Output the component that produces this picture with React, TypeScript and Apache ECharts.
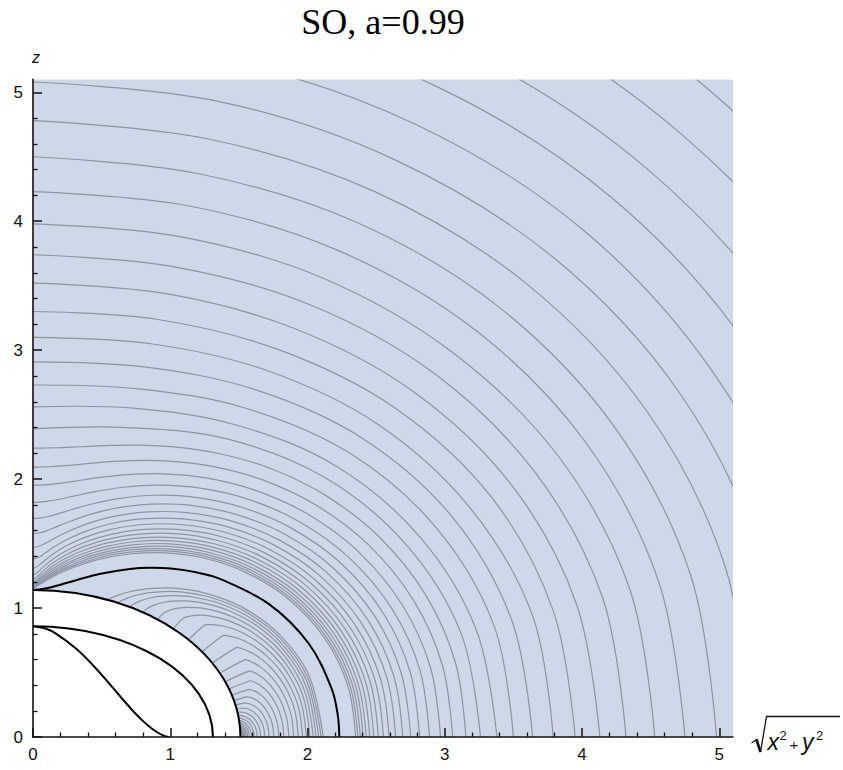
import React, { useEffect, useRef } from "react";
import * as echarts from "echarts";

// ---- texts and ticks ----
const TITLE = "SO, a=0.99";
const Y_NAME = "z";
const majorTicks = [0, 1, 2, 3, 4, 5];
const minorTicks = [0.2, 0.4, 0.6, 0.8, 1.2, 1.4, 1.6, 1.8, 2.2, 2.4, 2.6, 2.8, 3.2, 3.4, 3.6, 3.8, 4.2, 4.4, 4.6, 4.8];

// ---- horizons (quarter ellipses): semi-axis along sqrt(x^2+y^2), semi-axis along z ----
const outerHorizon = [1.511, 1.141];
const innerHorizon = [1.311, 0.859];

// ---- ergosurfaces: [sqrt(x^2+y^2), z] ----
const ergoInner = [[0, 0.859], [0.085, 0.843], [0.167, 0.802], [0.315, 0.684], [0.442, 0.551], [0.551, 0.42], [0.646, 0.302], [0.729, 0.202], [0.802, 0.123], [0.865, 0.066], [0.917, 0.029], [0.957, 0.009], [0.982, 0.001], [0.99, 0]];
const ergoOuter = [[0, 1.141], [0.04, 1.143], [0.079, 1.149], [0.133, 1.161], [0.216, 1.186], [0.332, 1.222], [0.483, 1.264], [0.706, 1.303], [0.855, 1.312], [1.005, 1.306], [1.188, 1.277], [1.368, 1.224], [1.727, 1.025], [2.01, 0.723], [2.175, 0.378], [2.22, 0.174], [2.232, 0]];

// ---- grey contour lines, outer family far from the hole ----
const contoursFar = [
  [[0, 6.87], [1.8, 6.66], [3.51, 6.01], [5.0, 4.95], [6.18, 3.53], [6.94, 1.84], [7.2, 0]],
  [[0, 6.47], [1.7, 6.27], [3.31, 5.67], [4.73, 4.67], [5.85, 3.34], [6.56, 1.74], [6.81, 0]],
  [[0, 6.09], [1.6, 5.9], [3.12, 5.34], [4.47, 4.41], [5.53, 3.16], [6.22, 1.65], [6.45, 0]],
  [[0, 5.73], [1.51, 5.56], [2.95, 5.04], [4.23, 4.17], [5.24, 2.98], [5.89, 1.56], [6.12, 0]],
  [[0, 5.4], [1.43, 5.24], [2.79, 4.75], [4.0, 3.94], [4.96, 2.82], [5.59, 1.48], [5.8, 0]],
  [[0, 5.08], [1.35, 4.93], [2.63, 4.48], [3.79, 3.72], [4.71, 2.67], [5.3, 1.4], [5.51, 0]],
  [[0, 4.78], [1.27, 4.64], [2.49, 4.23], [3.59, 3.52], [4.47, 2.53], [5.04, 1.33], [5.24, 0]],
  [[0, 4.5], [1.2, 4.37], [2.36, 3.99], [3.4, 3.33], [4.24, 2.4], [4.79, 1.26], [4.98, 0]],
  [[0, 4.23], [1.13, 4.12], [2.23, 3.77], [3.23, 3.15], [4.03, 2.28], [4.56, 1.2], [4.75, 0]],
  [[0, 3.98], [1.07, 3.88], [2.11, 3.56], [3.06, 2.98], [3.84, 2.16], [4.35, 1.14], [4.53, 0]],
  [[0, 3.74], [1.01, 3.65], [2.0, 3.36], [2.91, 2.83], [3.66, 2.05], [4.15, 1.08], [4.32, 0]],
  [[0, 3.52], [0.96, 3.44], [1.9, 3.17], [2.77, 2.68], [3.49, 1.95], [3.96, 1.03], [4.13, 0]],
  [[0, 3.3], [0.9, 3.24], [1.8, 3.0], [2.64, 2.55], [3.34, 1.86], [3.79, 0.98], [3.95, 0]],
  [[0, 3.1], [0.86, 3.05], [1.71, 2.84], [2.52, 2.42], [3.19, 1.77], [3.64, 0.94], [3.79, 0]],
  [[0, 2.91], [0.81, 2.87], [1.63, 2.69], [2.41, 2.31], [3.06, 1.7], [3.49, 0.9], [3.64, 0]],
  [[0, 2.73], [0.77, 2.7], [1.55, 2.55], [2.31, 2.2], [2.94, 1.62], [3.36, 0.86], [3.5, 0]],
  [[0, 2.56], [0.73, 2.55], [1.48, 2.42], [2.21, 2.1], [2.82, 1.55], [3.23, 0.83], [3.38, 0]],
  [[0, 2.39], [0.69, 2.4], [1.42, 2.31], [2.13, 2.01], [2.72, 1.49], [3.12, 0.8], [3.26, 0]],
];

// ---- grey contour lines, outer family near the hole ----
const contoursNear = [
  [[0, 2.24], [0.064, 2.24], [0.128, 2.242], [0.215, 2.245], [0.345, 2.251], [0.523, 2.26], [0.75, 2.264], [1.03, 2.25], [1.362, 2.197], [1.736, 2.08], [2.134, 1.872], [2.525, 1.549], [2.864, 1.096], [3.08, 0.568], [3.154, 0]],
  [[0, 2.093], [0.061, 2.094], [0.121, 2.096], [0.203, 2.102], [0.327, 2.113], [0.497, 2.13], [0.716, 2.144], [0.987, 2.14], [1.309, 2.099], [1.673, 1.994], [2.061, 1.799], [2.443, 1.492], [2.774, 1.058], [2.985, 0.549], [3.057, 0]],
  [[0, 1.953], [0.057, 1.954], [0.115, 1.958], [0.193, 1.967], [0.311, 1.985], [0.474, 2.011], [0.686, 2.035], [0.949, 2.041], [1.261, 2.01], [1.616, 1.915], [1.995, 1.733], [2.368, 1.44], [2.692, 1.022], [2.898, 0.531], [2.969, 0]],
  [[0, 1.82], [0.054, 1.822], [0.109, 1.829], [0.183, 1.842], [0.296, 1.868], [0.454, 1.903], [0.659, 1.937], [0.915, 1.953], [1.219, 1.93], [1.565, 1.845], [1.935, 1.674], [2.301, 1.393], [2.618, 0.99], [2.82, 0.515], [2.889, 0]],
  [[0, 1.695], [0.051, 1.698], [0.103, 1.708], [0.174, 1.728], [0.284, 1.764], [0.436, 1.809], [0.636, 1.851], [0.885, 1.875], [1.182, 1.859], [1.52, 1.782], [1.882, 1.62], [2.24, 1.351], [2.551, 0.962], [2.749, 0.5], [2.817, 0]],
  [[0, 1.578], [0.049, 1.584], [0.099, 1.599], [0.166, 1.628], [0.273, 1.673], [0.421, 1.728], [0.616, 1.777], [0.859, 1.806], [1.149, 1.796], [1.48, 1.726], [1.835, 1.572], [2.185, 1.313], [2.491, 0.935], [2.685, 0.487], [2.752, 0]],
  [[0, 1.471], [0.047, 1.481], [0.094, 1.505], [0.16, 1.543], [0.263, 1.598], [0.408, 1.659], [0.598, 1.713], [0.836, 1.746], [1.12, 1.74], [1.444, 1.676], [1.792, 1.529], [2.137, 1.279], [2.437, 0.912], [2.628, 0.475], [2.694, 0]],
  [[0, 1.379], [0.045, 1.396], [0.091, 1.429], [0.155, 1.475], [0.256, 1.536], [0.398, 1.601], [0.584, 1.658], [0.816, 1.693], [1.095, 1.691], [1.413, 1.631], [1.755, 1.49], [2.093, 1.248], [2.388, 0.891], [2.577, 0.464], [2.642, 0]],
  [[0, 1.306], [0.043, 1.331], [0.089, 1.372], [0.151, 1.423], [0.25, 1.487], [0.389, 1.552], [0.571, 1.61], [0.799, 1.648], [1.073, 1.648], [1.385, 1.592], [1.721, 1.456], [2.055, 1.22], [2.345, 0.872], [2.531, 0.454], [2.595, 0]],
  [[0, 1.254], [0.042, 1.286], [0.087, 1.331], [0.149, 1.383], [0.246, 1.446], [0.382, 1.512], [0.561, 1.57], [0.785, 1.608], [1.053, 1.61], [1.361, 1.557], [1.692, 1.426], [2.02, 1.196], [2.307, 0.855], [2.49, 0.446], [2.553, 0]],
  [[0, 1.219], [0.042, 1.255], [0.086, 1.3], [0.146, 1.351], [0.242, 1.413], [0.376, 1.478], [0.551, 1.535], [0.772, 1.573], [1.036, 1.577], [1.339, 1.526], [1.665, 1.399], [1.99, 1.174], [2.273, 0.84], [2.454, 0.438], [2.516, 0]],
  [[0, 1.196], [0.041, 1.234], [0.085, 1.277], [0.145, 1.326], [0.239, 1.386], [0.37, 1.448], [0.544, 1.505], [0.761, 1.543], [1.021, 1.547], [1.32, 1.499], [1.642, 1.375], [1.963, 1.155], [2.242, 0.827], [2.422, 0.431], [2.483, 0]],
  [[0, 1.181], [0.041, 1.218], [0.084, 1.259], [0.143, 1.305], [0.236, 1.362], [0.366, 1.423], [0.537, 1.478], [0.751, 1.516], [1.008, 1.521], [1.303, 1.474], [1.622, 1.353], [1.938, 1.138], [2.215, 0.815], [2.393, 0.425], [2.454, 0]],
  [[0, 1.17], [0.041, 1.206], [0.083, 1.244], [0.142, 1.288], [0.234, 1.342], [0.362, 1.401], [0.531, 1.455], [0.742, 1.492], [0.997, 1.498], [1.288, 1.453], [1.603, 1.334], [1.917, 1.122], [2.192, 0.804], [2.367, 0.42], [2.428, 0]],
  [[0, 1.163], [0.041, 1.196], [0.083, 1.232], [0.141, 1.273], [0.232, 1.325], [0.359, 1.382], [0.525, 1.434], [0.735, 1.471], [0.986, 1.478], [1.275, 1.433], [1.587, 1.317], [1.898, 1.109], [2.17, 0.795], [2.345, 0.415], [2.405, 0]],
  [[0, 1.157], [0.041, 1.189], [0.082, 1.222], [0.14, 1.26], [0.23, 1.31], [0.356, 1.365], [0.521, 1.416], [0.728, 1.453], [0.977, 1.459], [1.263, 1.416], [1.573, 1.302], [1.882, 1.097], [2.152, 0.786], [2.325, 0.411], [2.385, 0]],
  [[0, 1.154], [0.04, 1.182], [0.082, 1.213], [0.139, 1.249], [0.228, 1.297], [0.353, 1.35], [0.517, 1.4], [0.722, 1.436], [0.969, 1.443], [1.253, 1.401], [1.56, 1.289], [1.867, 1.086], [2.135, 0.779], [2.307, 0.407], [2.367, 0]],
  [[0, 1.151], [0.04, 1.177], [0.082, 1.205], [0.139, 1.239], [0.227, 1.285], [0.351, 1.336], [0.513, 1.385], [0.717, 1.421], [0.962, 1.428], [1.244, 1.388], [1.549, 1.277], [1.854, 1.076], [2.121, 0.772], [2.292, 0.403], [2.351, 0]],
];

// ---- grey contour lines inside the ergoregion (from the horizon to the equator) ----
const contoursErgo = [
  [[1.51, 0.04], [1.51, 0.03], [1.52, 0.02], [1.52, 0.01], [1.52, 0]],
  [[1.51, 0.04], [1.51, 0.03], [1.52, 0.03], [1.52, 0.02], [1.52, 0.01], [1.52, 0]],
  [[1.51, 0.05], [1.51, 0.04], [1.52, 0.04], [1.52, 0.03], [1.52, 0.02], [1.52, 0.01], [1.52, 0]],
  [[1.51, 0.05], [1.52, 0.04], [1.52, 0.03], [1.52, 0.02], [1.53, 0.01], [1.53, 0]],
  [[1.51, 0.06], [1.51, 0.05], [1.52, 0.05], [1.52, 0.04], [1.53, 0.02], [1.53, 0.01], [1.53, 0]],
  [[1.51, 0.07], [1.52, 0.06], [1.52, 0.05], [1.53, 0.04], [1.53, 0.03], [1.54, 0.01], [1.54, 0]],
  [[1.51, 0.08], [1.52, 0.07], [1.53, 0.06], [1.53, 0.05], [1.54, 0.03], [1.54, 0.02], [1.54, 0]],
  [[1.506, 0.089], [1.507, 0.088], [1.51, 0.087], [1.513, 0.084], [1.517, 0.081], [1.522, 0.077], [1.528, 0.071], [1.534, 0.062], [1.541, 0.051], [1.547, 0.037], [1.551, 0.021], [1.553, 0]],
  [[1.505, 0.101], [1.506, 0.1], [1.51, 0.099], [1.514, 0.096], [1.519, 0.092], [1.525, 0.088], [1.533, 0.081], [1.541, 0.071], [1.549, 0.058], [1.557, 0.043], [1.562, 0.024], [1.564, 0]],
  [[1.503, 0.115], [1.505, 0.114], [1.51, 0.112], [1.516, 0.109], [1.523, 0.105], [1.53, 0.1], [1.539, 0.093], [1.549, 0.082], [1.56, 0.067], [1.568, 0.049], [1.574, 0.027], [1.577, 0]],
  [[1.501, 0.13], [1.504, 0.129], [1.51, 0.128], [1.518, 0.125], [1.527, 0.12], [1.537, 0.115], [1.548, 0.107], [1.56, 0.094], [1.572, 0.077], [1.582, 0.057], [1.59, 0.031], [1.593, 0]],
  [[1.498, 0.148], [1.503, 0.147], [1.512, 0.146], [1.522, 0.143], [1.534, 0.138], [1.545, 0.132], [1.559, 0.123], [1.573, 0.109], [1.588, 0.089], [1.599, 0.065], [1.608, 0.036], [1.611, 0]],
  [[1.494, 0.168], [1.503, 0.168], [1.515, 0.167], [1.529, 0.164], [1.543, 0.159], [1.557, 0.152], [1.572, 0.142], [1.59, 0.126], [1.606, 0.103], [1.62, 0.076], [1.629, 0.042], [1.633, 0]],
  [[1.489, 0.191], [1.505, 0.193], [1.522, 0.192], [1.539, 0.19], [1.556, 0.184], [1.572, 0.177], [1.589, 0.165], [1.609, 0.146], [1.628, 0.12], [1.643, 0.088], [1.654, 0.049], [1.659, 0]],
  [[1.483, 0.218], [1.515, 0.223], [1.535, 0.223], [1.553, 0.221], [1.572, 0.215], [1.59, 0.206], [1.609, 0.193], [1.631, 0.171], [1.652, 0.141], [1.67, 0.104], [1.683, 0.057], [1.688, 0]],
  [[1.475, 0.248], [1.535, 0.263], [1.553, 0.262], [1.572, 0.259], [1.591, 0.252], [1.61, 0.242], [1.632, 0.226], [1.656, 0.2], [1.68, 0.165], [1.699, 0.122], [1.714, 0.068], [1.72, 0]],
  [[1.463, 0.283], [1.557, 0.311], [1.575, 0.309], [1.591, 0.304], [1.611, 0.296], [1.631, 0.284], [1.654, 0.266], [1.681, 0.236], [1.708, 0.194], [1.73, 0.143], [1.747, 0.08], [1.754, 0]],
  [[1.448, 0.324], [1.575, 0.369], [1.589, 0.365], [1.607, 0.359], [1.628, 0.35], [1.649, 0.335], [1.675, 0.313], [1.705, 0.278], [1.736, 0.229], [1.762, 0.169], [1.782, 0.094], [1.791, 0]],
  [[1.428, 0.372], [1.583, 0.436], [1.597, 0.432], [1.616, 0.424], [1.638, 0.412], [1.662, 0.396], [1.691, 0.37], [1.726, 0.329], [1.762, 0.272], [1.793, 0.201], [1.817, 0.112], [1.827, 0]],
  [[1.4, 0.429], [1.576, 0.513], [1.591, 0.508], [1.611, 0.5], [1.636, 0.486], [1.663, 0.467], [1.697, 0.437], [1.739, 0.389], [1.783, 0.322], [1.821, 0.239], [1.851, 0.133], [1.864, 0]],
  [[1.361, 0.495], [1.546, 0.6], [1.563, 0.595], [1.587, 0.586], [1.615, 0.571], [1.648, 0.549], [1.69, 0.515], [1.741, 0.461], [1.796, 0.383], [1.845, 0.284], [1.883, 0.159], [1.899, 0]],
  [[1.306, 0.573], [1.484, 0.695], [1.505, 0.69], [1.534, 0.681], [1.569, 0.665], [1.61, 0.643], [1.662, 0.606], [1.727, 0.545], [1.798, 0.455], [1.861, 0.34], [1.911, 0.19], [1.932, 0]],
  [[1.231, 0.661], [1.385, 0.788], [1.411, 0.786], [1.447, 0.779], [1.491, 0.766], [1.542, 0.744], [1.608, 0.705], [1.692, 0.639], [1.785, 0.538], [1.868, 0.404], [1.935, 0.228], [1.964, 0]],
  [[1.134, 0.754], [1.249, 0.867], [1.282, 0.871], [1.327, 0.87], [1.382, 0.861], [1.446, 0.843], [1.529, 0.807], [1.636, 0.739], [1.756, 0.628], [1.865, 0.477], [1.953, 0.271], [1.992, 0]],
  [[1.023, 0.84], [1.096, 0.922], [1.136, 0.936], [1.19, 0.944], [1.255, 0.943], [1.332, 0.93], [1.433, 0.899], [1.565, 0.833], [1.715, 0.717], [1.854, 0.55], [1.968, 0.315], [2.018, 0]],
  [[0.908, 0.912], [0.951, 0.96], [0.997, 0.983], [1.057, 0.999], [1.131, 1.006], [1.218, 1.001], [1.335, 0.976], [1.49, 0.915], [1.67, 0.797], [1.84, 0.618], [1.979, 0.356], [2.042, 0]],
  [[0.801, 0.968], [0.83, 0.995], [0.877, 1.021], [0.939, 1.041], [1.018, 1.054], [1.114, 1.055], [1.243, 1.038], [1.419, 0.983], [1.626, 0.866], [1.824, 0.677], [1.989, 0.394], [2.063, 0]],
  [[0.704, 1.009], [0.729, 1.028], [0.774, 1.052], [0.838, 1.074], [0.921, 1.09], [1.023, 1.096], [1.162, 1.086], [1.355, 1.037], [1.585, 0.923], [1.809, 0.728], [1.997, 0.426], [2.082, 0]],
  [[0.619, 1.041], [0.642, 1.056], [0.686, 1.077], [0.751, 1.099], [0.836, 1.118], [0.943, 1.128], [1.091, 1.124], [1.298, 1.082], [1.549, 0.971], [1.795, 0.772], [2.004, 0.454], [2.099, 0]],
  [[0.544, 1.064], [0.566, 1.077], [0.61, 1.096], [0.676, 1.119], [0.764, 1.139], [0.874, 1.153], [1.029, 1.154], [1.248, 1.118], [1.516, 1.011], [1.782, 0.809], [2.01, 0.479], [2.115, 0]],
];

const GREY = "#8e95a0";
const BLACK = "#000";
const FILL = "#cfd8e8";
const SANS = "Liberation Sans, Arial, sans-serif";

function curveSeries(curves: number[][][], color: string, width: number, z: number) {
  return {
    type: "custom",
    coordinateSystem: "cartesian2d",
    silent: true,
    clip: true,
    z,
    data: curves.map((c) => c[0]),
    renderItem: (params: any, api: any) => {
      const cs = params.coordSys;
      const pts = curves[params.dataIndex].map((p) => api.coord(p));
      return {
        type: "polyline",
        shape: { points: pts, smooth: 0.35 },
        style: { stroke: color, lineWidth: width, fill: null },
        clipPath: { type: "rect", shape: { x: cs.x, y: cs.y, width: cs.width, height: cs.height } },
      };
    },
  };
}

function horizonSeries() {
  return {
    type: "custom",
    coordinateSystem: "cartesian2d",
    silent: true,
    clip: true,
    z: 4,
    data: [[0, 0]],
    renderItem: (params: any, api: any) => {
      const cs = params.coordSys;
      const c = api.coord([0, 0]);
      const o = api.size(outerHorizon);
      const i = api.size(innerHorizon);
      const rect = { x: cs.x, y: cs.y, width: cs.width, height: cs.height };
      return {
        type: "group",
        children: [
          { type: "ellipse", shape: { cx: c[0], cy: c[1], rx: o[0], ry: o[1] }, style: { fill: "#ffffff", stroke: BLACK, lineWidth: 2 }, clipPath: { type: "rect", shape: { ...rect } } },
          { type: "ellipse", shape: { cx: c[0], cy: c[1], rx: i[0], ry: i[1] }, style: { fill: null, stroke: BLACK, lineWidth: 2 }, clipPath: { type: "rect", shape: { ...rect } } },
        ],
      };
    },
  };
}

export default function App() {
  const ref = useRef<HTMLDivElement>(null);
  useEffect(() => {
    if (!ref.current) return;
    const chart = echarts.init(ref.current, null, { renderer: "svg" });
    const labelFont = { color: "#111", fontSize: 17, fontFamily: SANS };
    const axLine = { show: true, onZero: false, lineStyle: { color: "#111", width: 1.6 } };
    const baseX = { type: "value", min: 0, max: 5.1, position: "bottom", splitLine: { show: false }, z: 10 };
    const baseY = { type: "value", min: 0, max: 5.1, position: "left", splitLine: { show: false }, z: 10 };
    const txt = (x: number, y: number, text: string, size: number, extra: any = {}) => ({
      type: "text", x, y, silent: true,
      style: { text, fontSize: size, fontFamily: SANS, fill: "#111", align: "left", verticalAlign: "middle", ...extra },
    });
    chart.setOption({
      animation: false,
      grid: { left: 33, top: 79.4, width: 700, height: 657.6, show: true, backgroundColor: FILL, borderWidth: 0, containLabel: false },
      xAxis: [
        { ...baseX, axisLine: axLine, axisTick: { show: true, inside: true, length: 9, lineStyle: { color: "#111", width: 1.5 }, customValues: majorTicks }, axisLabel: { ...labelFont, margin: 9, customValues: majorTicks } },
        { ...baseX, axisLine: { show: false }, axisTick: { show: true, inside: true, length: 4.5, lineStyle: { color: "#111", width: 1.3 }, customValues: minorTicks }, axisLabel: { show: false } },
      ],
      yAxis: [
        { ...baseY, axisLine: axLine, axisTick: { show: true, inside: true, length: 9, lineStyle: { color: "#111", width: 1.5 }, customValues: majorTicks }, axisLabel: { ...labelFont, margin: 10, customValues: majorTicks } },
        { ...baseY, axisLine: { show: false }, axisTick: { show: true, inside: true, length: 4.5, lineStyle: { color: "#111", width: 1.3 }, customValues: minorTicks }, axisLabel: { show: false } },
      ],
      graphic: [
        { type: "text", x: 383, y: 21.5, silent: true, style: { text: TITLE, fontSize: 36, fontFamily: "Liberation Serif, Times New Roman, serif", fill: "#000", align: "center", verticalAlign: "middle" } },
        txt(36, 57, Y_NAME, 16, { align: "center", fontStyle: "italic" }),
        { type: "polyline", silent: true, shape: { points: [[751.5, 743], [756.5, 739.5], [760.5, 752], [766.5, 716.5], [840, 716.5]] }, style: { stroke: "#111", lineWidth: 1.3, fill: null } },
        { type: "line", silent: true, shape: { x1: 756.5, y1: 739.5, x2: 760.5, y2: 752 }, style: { stroke: "#111", lineWidth: 2.6 } },
        txt(767.5, 742, "x", 23, { fontStyle: "italic" }),
        txt(779.5, 735, "2", 13),
        txt(789.5, 744, "+", 15),
        txt(802, 742, "y", 23, { fontStyle: "italic" }),
        txt(816, 735, "2", 13),
      ],
      series: [
        curveSeries(contoursFar, GREY, 1.2, 2),
        curveSeries(contoursNear, GREY, 1.2, 2),
        curveSeries(contoursErgo, GREY, 1.2, 2),
        horizonSeries(),
        curveSeries([ergoInner, ergoOuter], BLACK, 2, 5),
      ],
    });
    return () => chart.dispose();
  }, []);
  return <div ref={ref} style={{ position: "absolute", left: 0, top: 0, width: 843, height: 770 }} />;
}
